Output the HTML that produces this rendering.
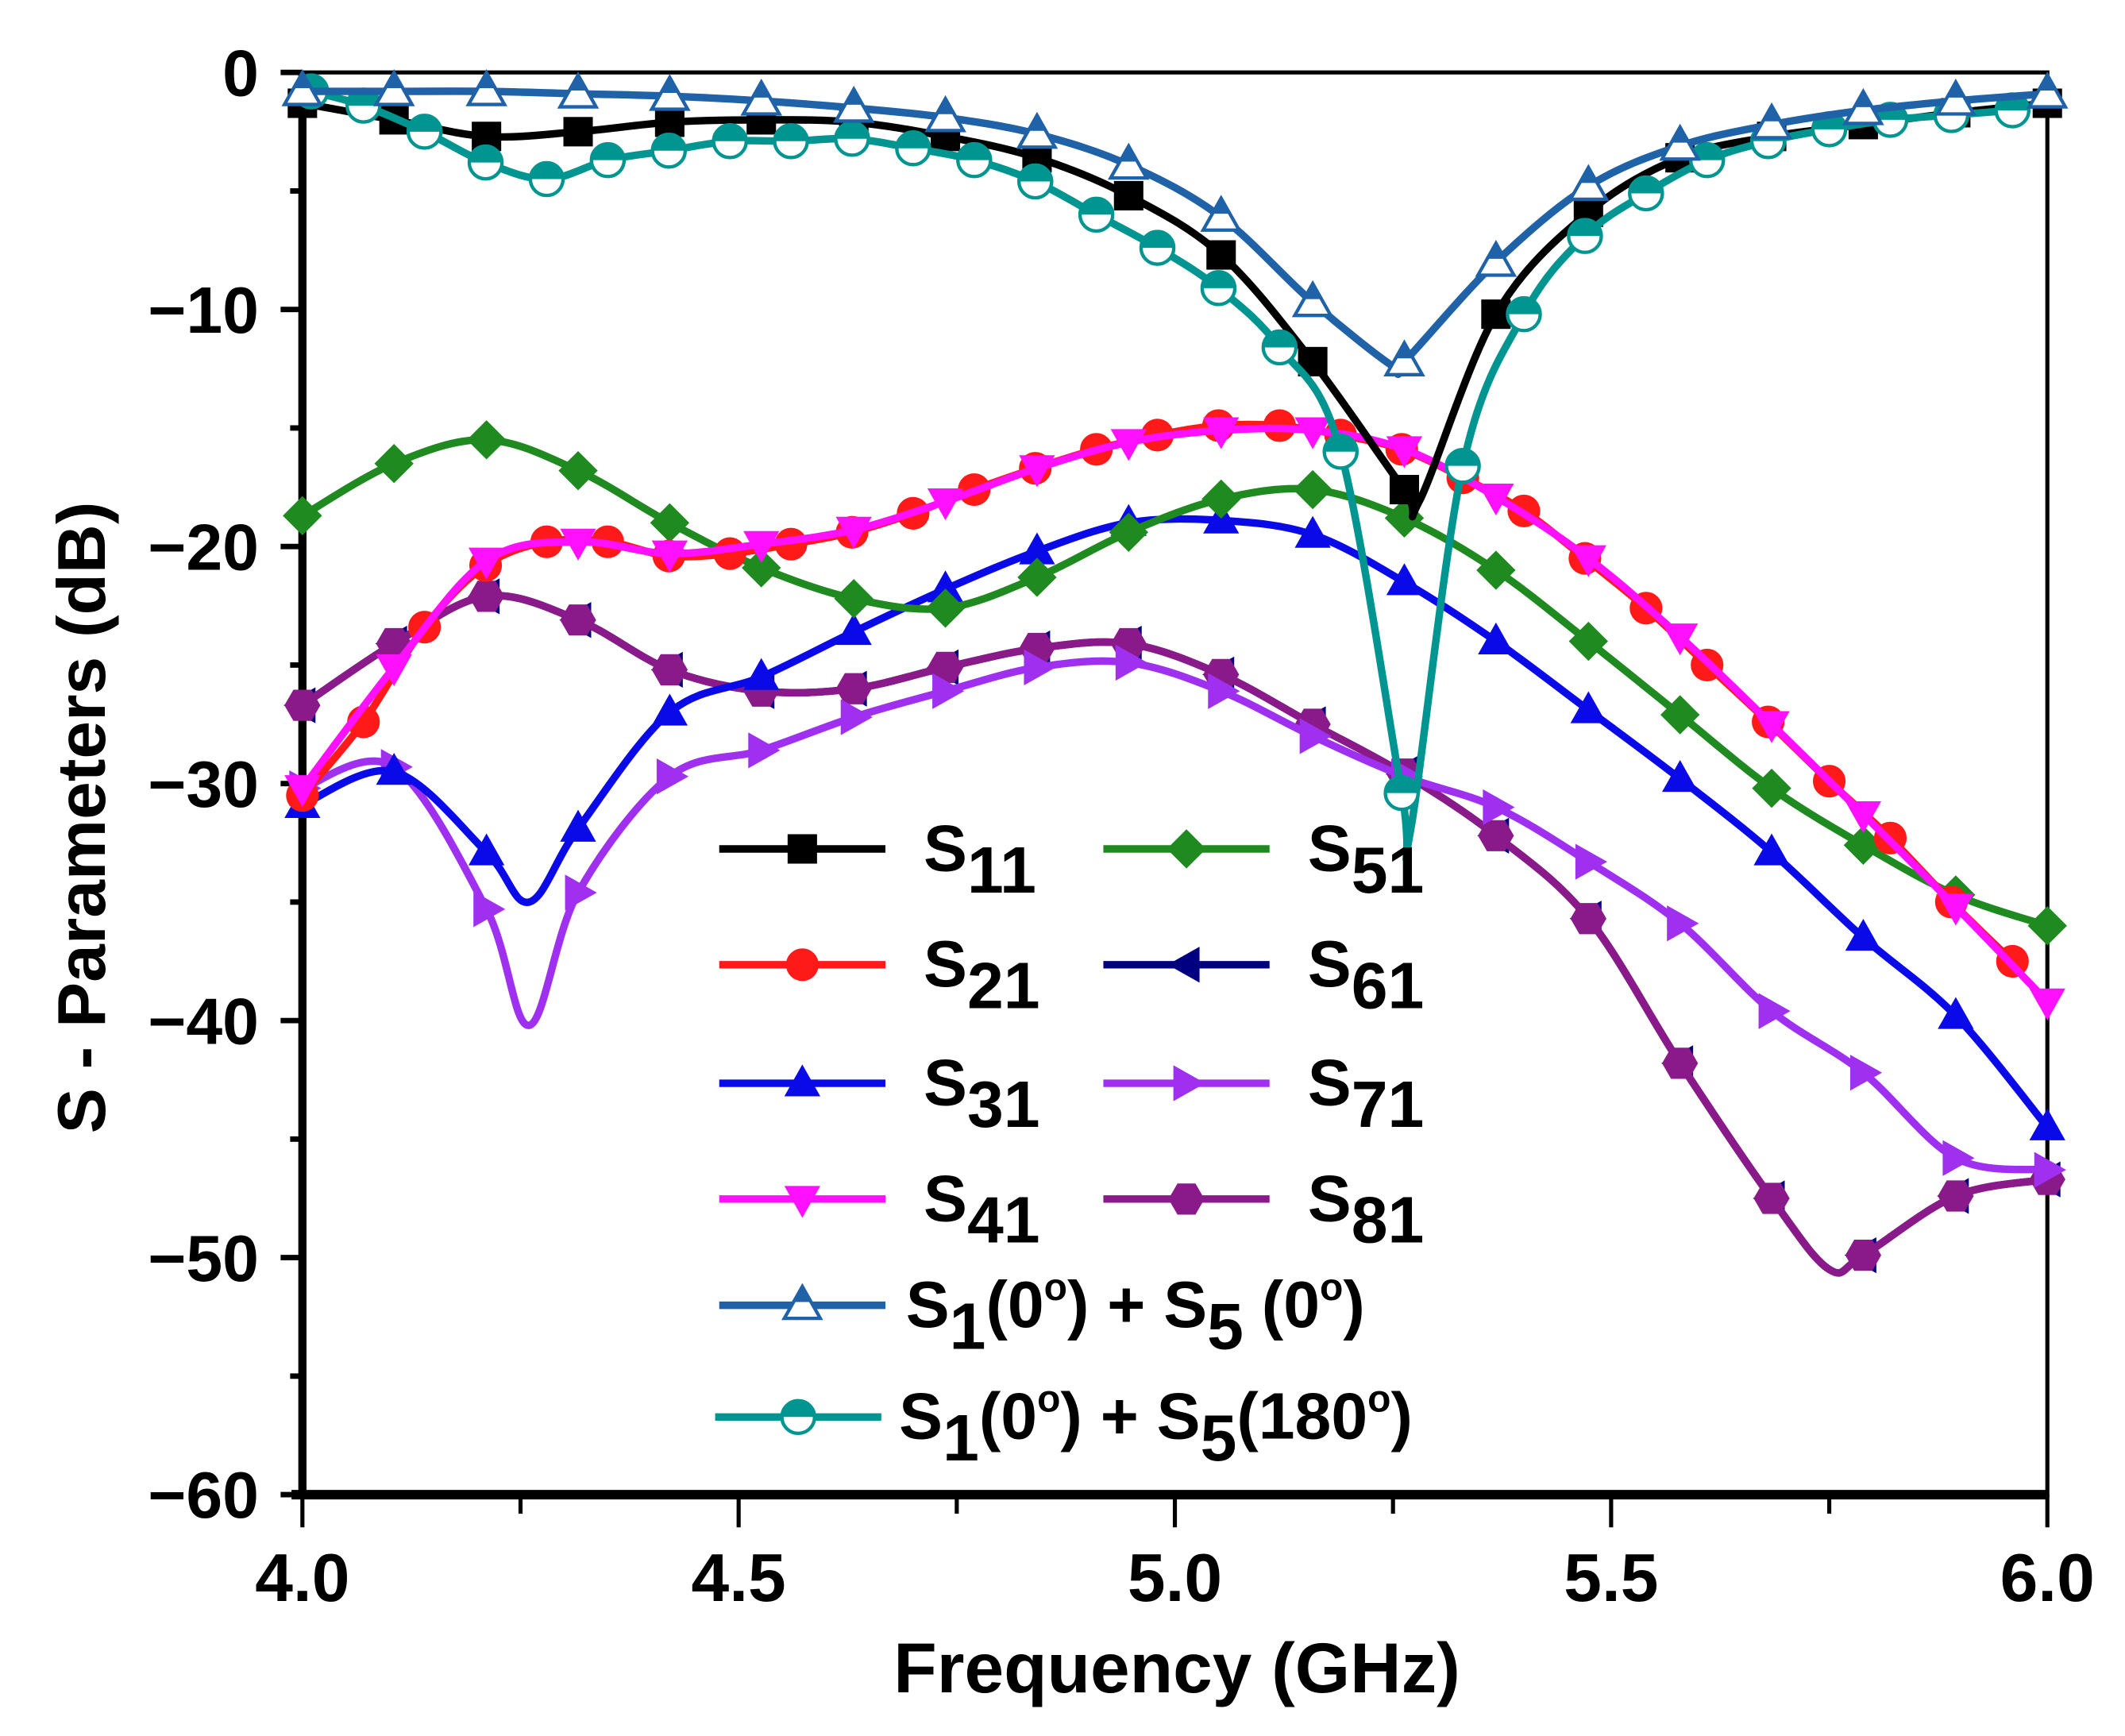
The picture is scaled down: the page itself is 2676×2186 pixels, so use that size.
<!DOCTYPE html>
<html><head><meta charset="utf-8"><style>
html,body{margin:0;padding:0;background:#fff}
svg{display:block}
text{font-family:"Liberation Sans",sans-serif;font-weight:bold;fill:#000}
</style></head><body>
<svg id="chart" xmlns="http://www.w3.org/2000/svg" width="2676" height="2186" viewBox="0 0 1560 1274">
<g id="axes"></g>
<g id="series"></g>
<g id="legend"></g>
</svg>
<script>
// ---- data ----
const xTicks = [4.0, 4.5, 5.0, 5.5, 6.0];
const xTickLabels = ["4.0", "4.5", "5.0", "5.5", "6.0"];
const yTicks = [0, -10, -20, -30, -40, -50, -60];
const yTickLabels = ["0", "\u221210", "\u221220", "\u221230", "\u221240", "\u221250", "\u221260"];
const fStd = [4.0,4.105,4.211,4.316,4.421,4.526,4.632,4.737,4.842,4.947,5.053,5.158,5.263,5.368,5.474,5.579,5.684,5.789,5.895,6.0];
const fFine = [4.0,4.07,4.14,4.21,4.28,4.35,4.42,4.49,4.56,4.63,4.70,4.77,4.84,4.91,4.98,5.05,5.12,5.19,5.26,5.33,5.40,5.47,5.54,5.61,5.68,5.75,5.82,5.89,5.96];
const s11 = [-1.3,-2.0,-2.7,-2.5,-2.1,-2.0,-2.1,-2.7,-3.6,-5.2,-7.7,-12.2,-17.6,-10.2,-5.9,-3.6,-2.7,-2.2,-1.7,-1.3];
const s21 = [-30.5,-27.4,-23.4,-20.8,-19.8,-19.8,-20.4,-20.3,-19.9,-19.4,-18.6,-17.6,-16.7,-15.9,-15.3,-14.9,-14.9,-15.3,-15.9,-17.1,-18.5,-20.5,-22.6,-25.0,-27.4,-29.9,-32.3,-35.0,-37.5];
const s31 = [-30.9,-29.5,-32.9,-31.9,-27.0,-25.5,-23.6,-21.8,-20.2,-19.0,-18.9,-19.5,-21.5,-24.0,-26.9,-29.8,-32.9,-36.5,-39.8,-44.5];
const s41 = [-30.2,-25.1,-20.6,-19.8,-20.3,-19.9,-19.3,-18.1,-16.7,-15.6,-15.1,-15.1,-15.9,-17.9,-20.5,-23.8,-27.5,-31.3,-35.2,-39.2];
const s51 = [-18.7,-16.5,-15.5,-16.8,-19.0,-20.9,-22.2,-22.6,-21.3,-19.4,-18.0,-17.6,-18.8,-21.0,-24.0,-27.1,-30.2,-32.6,-34.7,-36.0];
const s61 = [-26.7,-24.1,-22.1,-23.1,-25.2,-26.1,-26.0,-25.1,-24.3,-24.1,-25.4,-27.5,-29.6,-32.2,-35.7,-41.8,-47.5,-49.9,-47.4,-46.7];
const s71 = [-30.2,-29.3,-35.3,-34.6,-29.7,-28.6,-27.2,-26.1,-25.1,-24.9,-26.1,-28.0,-29.7,-31.0,-33.3,-35.9,-39.6,-42.2,-45.8,-46.3];
const s81 = [-26.7,-24.1,-22.1,-23.1,-25.2,-26.1,-26.0,-25.1,-24.3,-24.1,-25.4,-27.5,-29.6,-32.2,-35.7,-41.8,-47.5,-49.9,-47.4,-46.7];
const sp0 = [-0.8,-0.8,-0.8,-0.9,-1.0,-1.2,-1.5,-1.9,-2.6,-3.9,-6.1,-9.7,-12.2,-8.0,-4.8,-3.1,-2.2,-1.6,-1.2,-0.9];
const sp180 = [-0.8,-1.4,-2.5,-3.8,-4.5,-3.7,-3.3,-2.9,-2.9,-2.8,-3.2,-3.7,-4.6,-6.0,-7.4,-9.1,-11.6,-16.0,-30.4,-16.6,-10.2,-6.9,-5.1,-3.7,-2.9,-2.4,-2.0,-1.8,-1.6];
const fS180 = [4.01,4.07,4.14,4.21,4.28,4.35,4.42,4.49,4.56,4.63,4.70,4.77,4.84,4.91,4.98,5.05,5.12,5.19,5.26,5.33,5.40,5.47,5.54,5.61,5.68,5.75,5.82,5.89,5.96];
// unmarked extra points (dips)
const s11Extra = [[5.28,-18.1]];
const s31Extra = [[4.26,-35.0]];
const s71Extra = [[4.26,-40.2]];
const s81Extra = [[5.75,-50.5]];
const s61Extra = [[5.75,-50.5]];
const sp0Extra = [[5.25,-12.4]];
const sp180Extra = [[5.27,-32.0]];

// ---- axis functions ----
const X0=222,X1=1503,Y0=53,Y1=1097;
const xs = f => X0 + (f-4)/2*(X1-X0);
const ys = v => Y0 + (-v)/60*(Y1-Y0);
const NS="http://www.w3.org/2000/svg";
function mk(tag, attrs, parent){const e=document.createElementNS(NS,tag);for(const k in attrs)e.setAttribute(k,attrs[k]);parent.appendChild(e);return e;}

const axes=document.getElementById('axes');
let fr=mk('rect',{x:X0,y:Y0,width:X1-X0,height:Y1-Y0,fill:'none',stroke:'#000','stroke-width':3},axes);


let la=mk('line',{x1:X0,y1:Y0,x2:X0,y2:Y1+2,stroke:'#000','stroke-width':6},axes);


let ba=mk('line',{x1:X0-8,y1:Y1,x2:X1,y2:Y1,stroke:'#000','stroke-width':7},axes);


for(let v=0;v>=-60;v-=5){const maj=v%10===0;let t=mk('line',{x1:X0-(maj?16:9),y1:ys(v),x2:X0,y2:ys(v),stroke:'#000','stroke-width':4},axes);

}
for(let f=4;f<=6.001;f+=0.25){const maj=Math.abs(f*2-Math.round(f*2))<1e-6;let t=mk('line',{x1:xs(f),y1:Y1,x2:xs(f),y2:Y1+(maj?24:14),stroke:'#000','stroke-width':3},axes);

}
yTicks.forEach((v,i)=>{let t=mk('text',{x:190,y:ys(v)+17,'text-anchor':'end','font-size':48},axes);t.textContent=yTickLabels[i];

});
xTicks.forEach((f,i)=>{let t=mk('text',{x:xs(f),y:1175,'text-anchor':'middle','font-size':50},axes);t.textContent=xTickLabels[i];

});
let xt=mk('text',{x:864,y:1242,'text-anchor':'middle','font-size':52},axes);xt.textContent='Frequency (GHz)';


let yt=mk('text',{x:0,y:0,'text-anchor':'middle','font-size':50,transform:'translate(77,600) rotate(-90)'},axes);yt.textContent='S - Parameters (dB)';



// ---- series ----
function pathFrom(pts){
  let d='M'+pts[0][0]+','+pts[0][1];
  for(let i=0;i<pts.length-1;i++){
    const p0=pts[Math.max(0,i-1)],p1=pts[i],p2=pts[i+1],p3=pts[Math.min(pts.length-1,i+2)];
    const c1=[p1[0]+(p2[0]-p0[0])/6,p1[1]+(p2[1]-p0[1])/6],c2=[p2[0]-(p3[0]-p1[0])/6,p2[1]-(p3[1]-p1[1])/6];
    d+=' C'+c1[0]+','+c1[1]+' '+c2[0]+','+c2[1]+' '+p2[0]+','+p2[1];
  }
  return d;
}
function marker(g,type,x,y,color,s){
  s=s||12;let e;
  if(type==='square')e=mk('rect',{x:x-s*0.9,y:y-s*0.9,width:s*1.8,height:s*1.8,fill:color},g);
  else if(type==='circle')e=mk('circle',{cx:x,cy:y,r:s,fill:color},g);
  else if(type==='up')e=mk('polygon',{points:`${x},${y-s*1.15} ${x+s*1.1},${y+s*0.8} ${x-s*1.1},${y+s*0.8}`,fill:color},g);
  else if(type==='down')e=mk('polygon',{points:`${x},${y+s*1.15} ${x+s*1.1},${y-s*0.8} ${x-s*1.1},${y-s*0.8}`,fill:color},g);
  else if(type==='left')e=mk('polygon',{points:`${x-s*1.15},${y} ${x+s*0.8},${y-s*1.1} ${x+s*0.8},${y+s*1.1}`,fill:color},g);
  else if(type==='right')e=mk('polygon',{points:`${x+s*1.15},${y} ${x-s*0.8},${y-s*1.1} ${x-s*0.8},${y+s*1.1}`,fill:color},g);
  else if(type==='diamond')e=mk('polygon',{points:`${x},${y-s*1.2} ${x+s*1.2},${y} ${x},${y+s*1.2} ${x-s*1.2},${y}`,fill:color},g);
  else if(type==='hex'){let p=[];for(let k=0;k<6;k++){const a=Math.PI/3*k;p.push((x+s*1.1*Math.cos(a))+','+(y+s*1.1*Math.sin(a)));}e=mk('polygon',{points:p.join(' '),fill:color},g);}
  else if(type==='openup'){e=mk('polygon',{points:`${x},${y-s*1.15} ${x+s*1.1},${y+s*0.8} ${x-s*1.1},${y+s*0.8}`,fill:'#fff',stroke:color,'stroke-width':2.5},g);
    mk('polygon',{points:`${x},${y-s*1.15} ${x+s*0.55},${y-0.2*s} ${x-s*0.55},${y-0.2*s}`,fill:color},g);}
  else if(type==='halfcircle'){e=mk('circle',{cx:x,cy:y,r:s,fill:'#fff',stroke:color,'stroke-width':2.5},g);
    mk('path',{d:`M${x-s},${y} A${s},${s} 0 0 1 ${x+s},${y} Z`,fill:color},g);}
  
  
}
const seriesLayer=document.getElementById('series');
function drawSeries(name,freqs,vals,extra,color,mtype){
  const g=mk('g',{},seriesLayer);
  
  
  let all=freqs.map((f,i)=>[f,vals[i]]).concat(extra).sort((a,b)=>a[0]-b[0]);
  const pts=all.map(p=>[xs(p[0]),ys(p[1])]);
  const ln=mk('path',{d:pathFrom(pts),fill:'none',stroke:color,'stroke-width':5.5,'stroke-linejoin':'round'},g);
  
  
  freqs.forEach((f,i)=>marker(g,mtype,xs(f),ys(vals[i]),color));
}
drawSeries('s61-series',fStd,s61,s61Extra,'#000080','left');
drawSeries('s81-series',fStd,s81,s81Extra,'#8a1a8a','hex');
drawSeries('s71-series',fStd,s71,s71Extra,'#a030f0','right');
drawSeries('s31-series',fStd,s31,s31Extra,'#0a0ae8','up');
drawSeries('s51-series',fStd,s51,[],'#1f8a1f','diamond');
drawSeries('s21-series',fFine,s21,[],'#ff1a1a','circle');
drawSeries('s41-series',fStd,s41,[],'#ff10ff','down');
drawSeries('s11-series',fStd,s11,s11Extra,'#000000','square');
drawSeries('s1-s5-180-series',fS180,sp180,sp180Extra,'#009590','halfcircle');
drawSeries('s1-s5-0-series',fStd,sp0,sp0Extra,'#1f62a8','openup');

// ---- legend ----
const lg=document.getElementById('legend');
const legItems=[
 [528,623,'#000000','square','S','11'],[810,623,'#1f8a1f','diamond','S','51'],
 [528,708,'#ff1a1a','circle','S','21'],[810,708,'#000080','left','S','61'],
 [528,795,'#0a0ae8','up','S','31'],[810,795,'#a030f0','right','S','71'],
 [528,880,'#ff10ff','down','S','41'],[810,880,'#8a1a8a','hex','S','81']];
legItems.forEach(it=>{
  const g=mk('g',{},lg);
  
  
  mk('line',{x1:it[0],y1:it[1],x2:it[0]+122,y2:it[1],stroke:it[2],'stroke-width':5.5},g);
  marker(g,it[3],it[0]+61,it[1],it[2]);
  const t=mk('text',{x:it[0]+150,y:it[1]+16,'font-size':48},g);
  t.innerHTML=it[4]+'<tspan dy="16">'+it[5]+'</tspan>';
});
[[528,958,'#1f62a8','openup',' (0',665],
 [525,1040,'#009590','halfcircle','(180',660]].forEach(it=>{
  const g=mk('g',{},lg);
  
  
  mk('line',{x1:it[0],y1:it[1],x2:it[0]+122,y2:it[1],stroke:it[2],'stroke-width':5.5},g);
  marker(g,it[3],it[0]+61,it[1],it[2]);
  const t=mk('text',{x:it[5],y:it[1]+16,'font-size':48},g);
  t.innerHTML='S<tspan dy="16">1</tspan><tspan dy="-16">(0</tspan><tspan dy="-20" font-size="28">o</tspan><tspan dy="20">) + S</tspan><tspan dy="16">5</tspan><tspan dy="-16">'+it[4]+'</tspan><tspan dy="-20" font-size="28">o</tspan><tspan dy="20">)</tspan>';
});
</script>
</body></html>
